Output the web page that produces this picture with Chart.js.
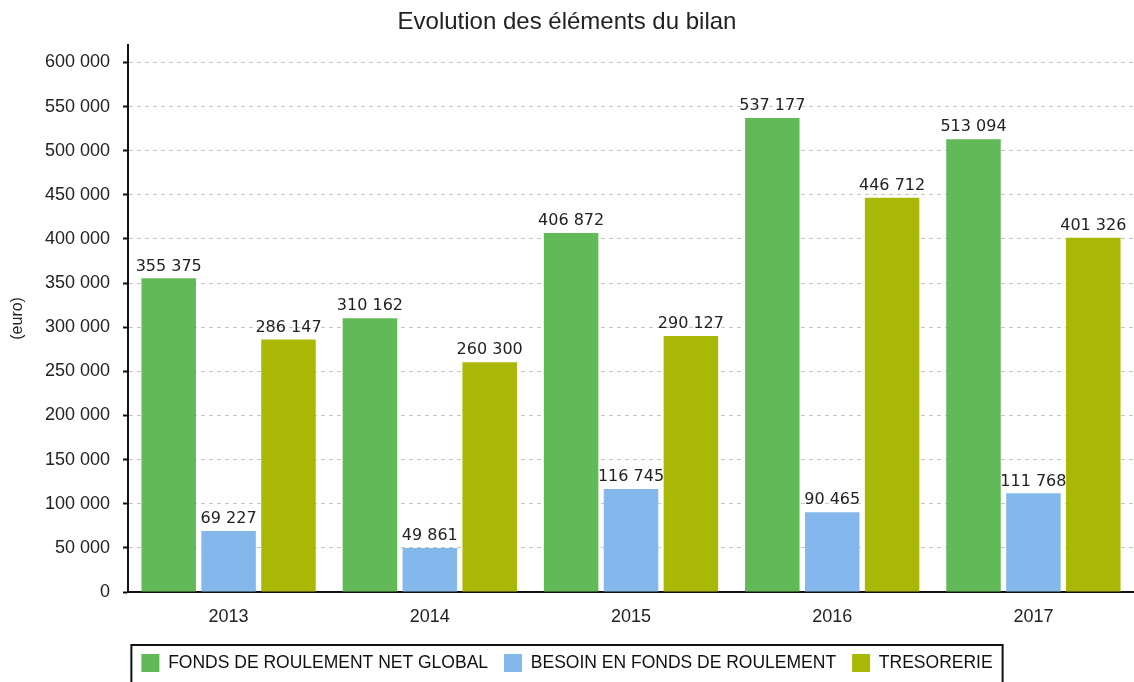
<!DOCTYPE html>
<html>
<head>
<meta charset="utf-8">
<script src="https://cdn.jsdelivr.net/npm/chart.js@4/dist/chart.umd.min.js"></script>
<style>
  html, body { margin: 0; padding: 0; background: #ffffff; }
  #wrap { width: 1134px; height: 682px; }
</style>
</head>
<body>
<div id="wrap"><canvas id="c" width="1134" height="682"></canvas></div>
<script>
const categories = ["2013", "2014", "2015", "2016", "2017"];
const seriesNames = ["FONDS DE ROULEMENT NET GLOBAL", "BESOIN EN FONDS DE ROULEMENT", "TRESORERIE"];
const fondsRoulement = [355375, 310162, 406872, 537177, 513094];
const besoinFonds = [69227, 49861, 116745, 90465, 111768];
const tresorerie = [286147, 260300, 290127, 446712, 401326];
const yTickValues = [0, 50000, 100000, 150000, 200000, 250000, 300000, 350000, 400000, 450000, 500000, 550000, 600000];
const seriesColors = ["#62b957", "#84b7ec", "#a9b805"];

function fmt(v) {
  return String(v).replace(/\B(?=(\d{3})+(?!\d))/g, " ");
}

const valueLabels = {
  id: "valueLabels",
  afterDatasetsDraw(chart) {
    const ctx = chart.ctx;
    ctx.save();
    ctx.font = "16px 'DejaVu Sans'";
    ctx.fillStyle = "#222";
    ctx.textAlign = "center";
    ctx.textBaseline = "bottom";
    chart.data.datasets.forEach((ds, i) => {
      const meta = chart.getDatasetMeta(i);
      meta.data.forEach((bar, j) => {
        ctx.fillText(fmt(ds.data[j]), bar.x, bar.y - 4);
      });
    });
    ctx.restore();
  }
};

const legendBorder = {
  id: "legendBorder",
  afterDraw(chart) {
    const lg = chart.legend;
    if (!lg || !lg.legendHitBoxes || !lg.legendHitBoxes.length) return;
    const boxes = lg.legendHitBoxes;
    let minX = Infinity, maxX = -Infinity, minY = Infinity;
    boxes.forEach(b => {
      minX = Math.min(minX, b.left);
      maxX = Math.max(maxX, b.left + b.width);
      minY = Math.min(minY, b.top);
    });
    const ctx = chart.ctx;
    ctx.save();
    ctx.strokeStyle = "#111";
    ctx.lineWidth = 2;
    ctx.strokeRect(minX - 10, minY - 9, (maxX - minX) + 20, 60);
    ctx.restore();
  }
};

new Chart(document.getElementById("c"), {
  type: "bar",
  data: {
    labels: categories,
    datasets: [
      { label: seriesNames[0], data: fondsRoulement, backgroundColor: seriesColors[0] },
      { label: seriesNames[1], data: besoinFonds, backgroundColor: seriesColors[1] },
      { label: seriesNames[2], data: tresorerie, backgroundColor: seriesColors[2] }
    ]
  },
  options: {
    responsive: false,
    animation: false,
    devicePixelRatio: 1,
    categoryPercentage: 0.893,
    barPercentage: 0.91,
    layout: { padding: { left: 0, right: 0, top: 0, bottom: 0 } },
    plugins: {
      title: {
        display: true,
        text: "Evolution des éléments du bilan",
        color: "#222",
        font: { family: "'Liberation Sans', Arial", size: 24, weight: "normal" },
        padding: { top: 8, bottom: 8 }
      },
      legend: {
        position: "bottom",
        labels: {
          color: "#111",
          font: { family: "'Liberation Sans', Arial", size: 17.5 },
          boxWidth: 18,
          boxHeight: 18,
          padding: 16
        }
      },
      tooltip: { enabled: false }
    },
    scales: {
      x: {
        grid: { display: false },
        border: { display: true, color: "#111", width: 2 },
        ticks: {
          color: "#222",
          padding: 6,
          font: { family: "'Liberation Sans', Arial", size: 18 }
        },
        afterFit(scale) { scale.height = 46; }
      },
      y: {
        min: 0,
        max: 620000,
        afterBuildTicks(scale) {
          scale.ticks = yTickValues.map(v => ({ value: v }));
        },
        grid: {
          color: "#c8c8c8",
          lineWidth: 1,
          tickColor: "#111",
          tickLength: 5,
          tickWidth: 2,
          tickBorderDash: []
        },
        border: { display: true, color: "#111", width: 2, dash: [4, 4] },
        ticks: {
          color: "#222",
          padding: 13,
          font: { family: "'Liberation Sans', Arial", size: 18 },
          callback: (v) => fmt(v)
        },
        title: {
          display: true,
          text: "(euro)",
          color: "#222",
          font: { family: "'Liberation Sans', Arial", size: 16 },
          padding: { top: 8, bottom: 0 }
        },
        afterFit(scale) { scale.width = 128; }
      }
    }
  },
  plugins: [valueLabels, legendBorder]
});
</script>
</body>
</html>
